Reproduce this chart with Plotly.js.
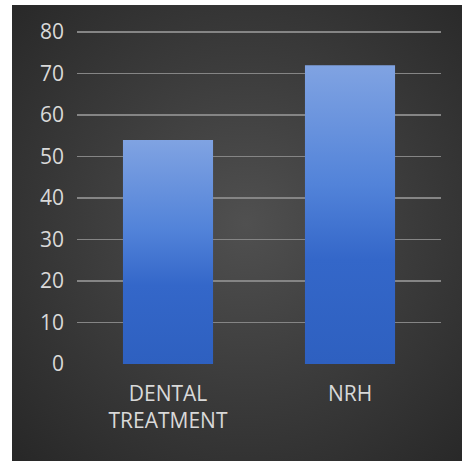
<!DOCTYPE html>
<html>
<head>
<meta charset="utf-8">
<script src="https://cdn.plot.ly/plotly-3.0.1.min.js"></script>
<style>
  html, body { margin: 0; padding: 0; background: #ffffff; }
  #wrap { position: relative; width: 462px; height: 461px; overflow: hidden; }
  #panel {
    position: absolute; left: 12px; top: 5px; right: 0; bottom: 0;
    background: radial-gradient(ellipse at 52% 48%, #505050 0%, #3b3b3b 50%, #272727 100%);
  }
  #chart { position: absolute; left: 0; top: 0; width: 462px; height: 461px; }
</style>
</head>
<body>
<div id="wrap">
  <div id="panel"></div>
  <div id="chart"></div>
</div>
<script>
// Categories and values
const categories = ['DENTAL<br>TREATMENT', 'NRH'];
const values = [54, 72];
const yTicks = [0, 10, 20, 30, 40, 50, 60, 70, 80];

const labelColor = '#d9d9d9';
const fontFamily = '"Open Sans", "Noto Sans", sans-serif';

const trace = {
  type: 'bar',
  x: categories,
  y: values,
  marker: { color: '#3f6fd0', line: { width: 0 } },
  hoverinfo: 'none'
};

const layout = {
  width: 462,
  height: 461,
  margin: { l: 77, r: 21, t: 30, b: 97 },
  paper_bgcolor: 'rgba(0,0,0,0)',
  plot_bgcolor: 'rgba(0,0,0,0)',
  bargap: 0.505,
  showlegend: false,
  font: { family: fontFamily, size: 21, color: labelColor },
  xaxis: {
    showgrid: false,
    zeroline: false,
    showline: false,
    ticks: '',
    ticklabelstandoff: 15,
    tickfont: { family: fontFamily, size: 21, color: labelColor }
  },
  yaxis: {
    range: [0, 80.5],
    tickvals: yTicks,
    ticktext: yTicks.map(String),
    showgrid: true,
    gridcolor: '#858585',
    gridwidth: 1.8,
    zeroline: true,
    zerolinecolor: 'rgba(0,0,0,0)',
    showline: false,
    ticks: '',
    ticklabelstandoff: 12,
    tickfont: { family: fontFamily, size: 21, color: labelColor }
  }
};

Plotly.newPlot('chart', [trace], layout, { staticPlot: true, displayModeBar: false }).then(function (gd) {
  // Vertical light-to-dark blue fill on each bar
  const svg = gd.querySelector('svg.main-svg');
  const ns = 'http://www.w3.org/2000/svg';
  let defs = svg.querySelector('defs');
  if (!defs) { defs = document.createElementNS(ns, 'defs'); svg.insertBefore(defs, svg.firstChild); }
  const grad = document.createElementNS(ns, 'linearGradient');
  grad.setAttribute('id', 'barFill');
  grad.setAttribute('x1', '0'); grad.setAttribute('y1', '0');
  grad.setAttribute('x2', '0'); grad.setAttribute('y2', '1');
  [['0', '#80a3e2'], ['0.4', '#5283d9'], ['0.65', '#3467c9'], ['1', '#2e60c0']].forEach(function (s) {
    const st = document.createElementNS(ns, 'stop');
    st.setAttribute('offset', s[0]);
    st.setAttribute('stop-color', s[1]);
    grad.appendChild(st);
  });
  defs.appendChild(grad);
  gd.querySelectorAll('.bars .point path').forEach(function (p) {
    p.style.fill = 'url(#barFill)';
  });
});
</script>
</body>
</html>
